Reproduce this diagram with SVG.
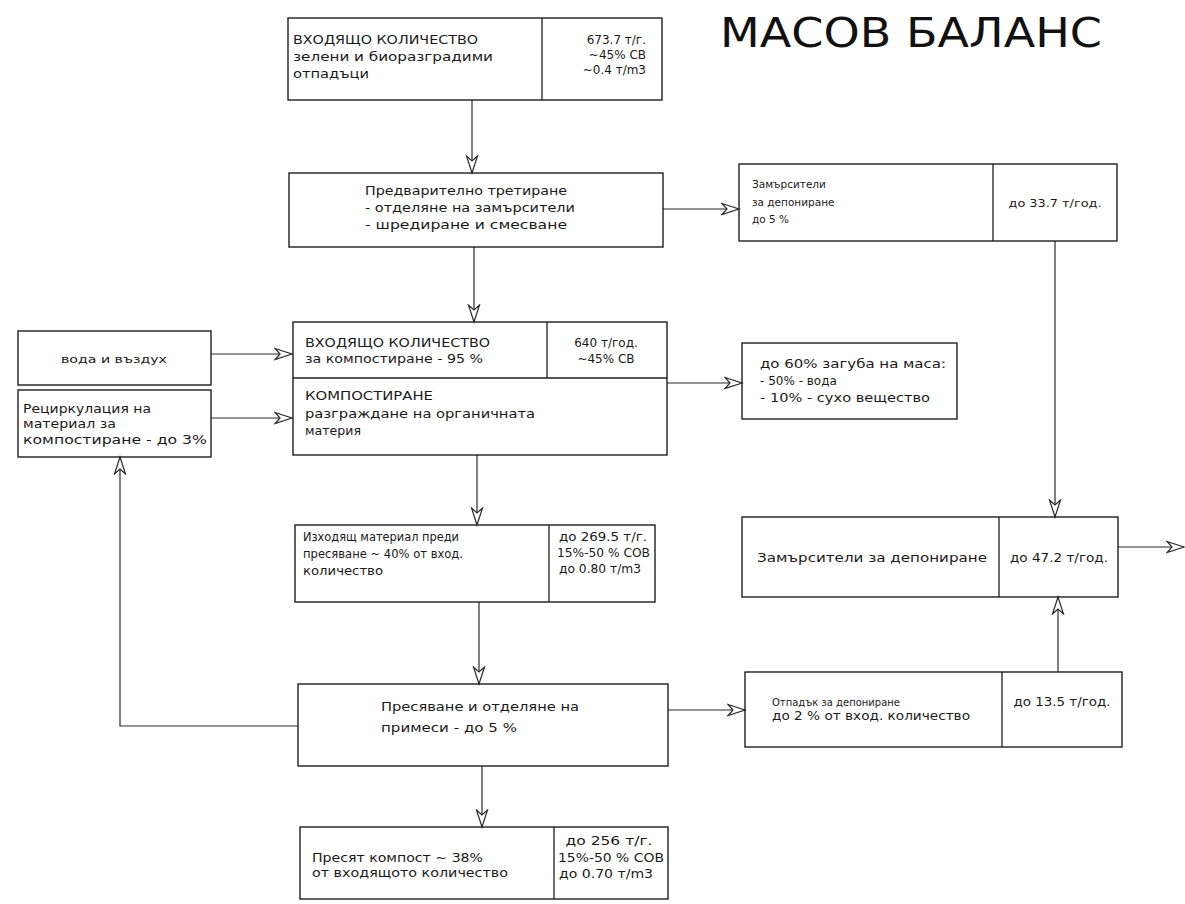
<svg xmlns="http://www.w3.org/2000/svg" width="1185" height="904" viewBox="0 0 1185 904">
<defs>
<style>
.box{fill:none;stroke:#1e1e1e;stroke-width:1.4}
.div{stroke:#1e1e1e;stroke-width:1.3}
.con{fill:none;stroke:#2a2a2a;stroke-width:1.2}
text{font-family:"DejaVu Sans","Noto Sans",sans-serif;font-size:12px;fill:#1a1a1a}
.sm{font-size:10.5px}
.title{font-size:41px;fill:#111}
</style>
<marker id="arr" markerUnits="userSpaceOnUse" markerWidth="20" markerHeight="14" refX="18" refY="7" orient="auto">
<path d="M1,1.5 L18,7 L1,12.5 L6,7 Z" fill="#fff" stroke="#2a2a2a" stroke-width="1.2" stroke-linejoin="miter"/>
</marker>
</defs>
<rect width="1185" height="904" fill="#fff"/>

<text class="title" x="720" y="47" textLength="382" lengthAdjust="spacingAndGlyphs">МАСОВ БАЛАНС</text>

<g id="connectors">
<line class="con" x1="472" y1="100" x2="472" y2="173" marker-end="url(#arr)"/>
<line class="con" x1="663" y1="209" x2="739" y2="209" marker-end="url(#arr)"/>
<line class="con" x1="474" y1="247" x2="474" y2="322" marker-end="url(#arr)"/>
<line class="con" x1="211" y1="354" x2="292" y2="354" marker-end="url(#arr)"/>
<line class="con" x1="211" y1="418" x2="292" y2="418" marker-end="url(#arr)"/>
<line class="con" x1="667" y1="383" x2="742" y2="383" marker-end="url(#arr)"/>
<line class="con" x1="477" y1="455" x2="477" y2="525" marker-end="url(#arr)"/>
<line class="con" x1="1055" y1="241" x2="1055" y2="517" marker-end="url(#arr)"/>
<line class="con" x1="479" y1="602" x2="479" y2="684" marker-end="url(#arr)"/>
<line class="con" x1="668" y1="710" x2="745" y2="710" marker-end="url(#arr)"/>
<line class="con" x1="1058" y1="672" x2="1058" y2="597" marker-end="url(#arr)"/>
<line class="con" x1="1118" y1="547" x2="1184" y2="547" marker-end="url(#arr)"/>
<line class="con" x1="482" y1="766" x2="482" y2="827" marker-end="url(#arr)"/>
<polyline class="con" points="298,726 120,726 120,457" marker-end="url(#arr)"/>
</g>

<g id="n-input">
<rect class="box" x="288" y="18" width="374" height="82"/>
<line class="div" x1="542" y1="18" x2="542" y2="100"/>
<text x="293" y="44" textLength="185" lengthAdjust="spacingAndGlyphs">ВХОДЯЩО КОЛИЧЕСТВО</text>
<text x="293" y="61" textLength="200" lengthAdjust="spacingAndGlyphs">зелени и биоразградими</text>
<text x="293" y="78" textLength="76" lengthAdjust="spacingAndGlyphs">отпадъци</text>
<text x="646" y="44" text-anchor="end" font-size="11.5">673.7 т/г.</text>
<text x="646" y="59" text-anchor="end" font-size="11.5">~45%  СВ</text>
<text x="646" y="74" text-anchor="end" font-size="11.5">~0.4 т/m3</text>
</g>

<g id="n-pretreat">
<rect class="box" x="289" y="173" width="374" height="74"/>
<text x="365" y="195" textLength="202" lengthAdjust="spacingAndGlyphs">Предварително третиране</text>
<text x="365" y="212" textLength="210" lengthAdjust="spacingAndGlyphs">- отделяне на замърсители</text>
<text x="365" y="229" textLength="202" lengthAdjust="spacingAndGlyphs">- шредиране и смесване</text>
</g>

<g id="n-contam1">
<rect class="box" x="739" y="164" width="378" height="77"/>
<line class="div" x1="993" y1="164" x2="993" y2="241"/>
<text x="752" y="188" class="sm">Замърсители</text>
<text x="752" y="206" class="sm">за депониране</text>
<text x="752" y="223" class="sm">до 5 %</text>
<text x="1055" y="207" text-anchor="middle" class="sm" textLength="93" lengthAdjust="spacingAndGlyphs">до 33.7 т/год.</text>
</g>

<g id="n-water">
<rect class="box" x="18" y="331" width="193" height="54"/>
<text x="114" y="363" text-anchor="middle" class="sm" textLength="106" lengthAdjust="spacingAndGlyphs">вода и въздух</text>
</g>

<g id="n-recirc">
<rect class="box" x="18" y="390" width="193" height="67"/>
<text x="23" y="413" font-size="12.5" textLength="128" lengthAdjust="spacingAndGlyphs">Рециркулация на</text>
<text x="23" y="428" font-size="12.5" textLength="93" lengthAdjust="spacingAndGlyphs">материал за</text>
<text x="23" y="444" font-size="12.5" textLength="184" lengthAdjust="spacingAndGlyphs">компостиране - до 3%</text>
</g>

<g id="n-compost">
<rect class="box" x="293" y="322" width="374" height="133"/>
<line class="div" x1="293" y1="378" x2="667" y2="378"/>
<line class="div" x1="547" y1="322" x2="547" y2="378"/>
<text x="305" y="347" textLength="185" lengthAdjust="spacingAndGlyphs">ВХОДЯЩО КОЛИЧЕСТВО</text>
<text x="305" y="363" textLength="178" lengthAdjust="spacingAndGlyphs">за компостиране  - 95 %</text>
<text x="606" y="347" text-anchor="middle">640 т/год.</text>
<text x="606" y="363" text-anchor="middle">~45%  СВ</text>
<text x="305" y="400" textLength="128" lengthAdjust="spacingAndGlyphs">КОМПОСТИРАНЕ</text>
<text x="305" y="418" textLength="230" lengthAdjust="spacingAndGlyphs">разграждане на органичната</text>
<text x="305" y="435" textLength="56" lengthAdjust="spacingAndGlyphs">материя</text>
</g>

<g id="n-loss">
<rect class="box" x="742" y="343" width="215" height="76"/>
<text x="760" y="368" textLength="186" lengthAdjust="spacingAndGlyphs">до 60% загуба на маса:</text>
<text x="760" y="385">- 50% - вода</text>
<text x="760" y="402" textLength="170" lengthAdjust="spacingAndGlyphs">- 10% - сухо вещество</text>
</g>

<g id="n-output">
<rect class="box" x="295" y="525" width="360" height="77"/>
<line class="div" x1="549" y1="525" x2="549" y2="602"/>
<text x="303" y="541" textLength="156" lengthAdjust="spacingAndGlyphs">Изходящ материал преди</text>
<text x="303" y="558" textLength="160" lengthAdjust="spacingAndGlyphs">пресяване ~ 40%  от вход.</text>
<text x="303" y="575" textLength="80" lengthAdjust="spacingAndGlyphs">количество</text>
<text x="559" y="541" textLength="88" lengthAdjust="spacingAndGlyphs">до 269.5 т/г.</text>
<text x="557" y="557" textLength="93" lengthAdjust="spacingAndGlyphs">15%-50 % СОВ</text>
<text x="559" y="573" textLength="82" lengthAdjust="spacingAndGlyphs">до 0.80 т/m3</text>
</g>

<g id="n-contam2">
<rect class="box" x="742" y="517" width="376" height="80"/>
<line class="div" x1="999" y1="517" x2="999" y2="597"/>
<text x="757" y="562" textLength="230" lengthAdjust="spacingAndGlyphs">Замърсители  за депониране</text>
<text x="1059" y="562" text-anchor="middle" textLength="98" lengthAdjust="spacingAndGlyphs">до 47.2 т/год.</text>
</g>

<g id="n-press">
<rect class="box" x="298" y="684" width="370" height="82"/>
<text x="381" y="711" textLength="198" lengthAdjust="spacingAndGlyphs">Пресяване и отделяне на</text>
<text x="381" y="732" textLength="136" lengthAdjust="spacingAndGlyphs">примеси  - до 5 %</text>
</g>

<g id="n-waste">
<rect class="box" x="745" y="672" width="377" height="75"/>
<line class="div" x1="1002" y1="672" x2="1002" y2="747"/>
<text x="772" y="706" class="sm" textLength="128" lengthAdjust="spacingAndGlyphs">Отпадък за депониране</text>
<text x="772" y="720" textLength="198" lengthAdjust="spacingAndGlyphs">до 2 %  от вход. количество</text>
<text x="1062" y="706" text-anchor="middle" textLength="97" lengthAdjust="spacingAndGlyphs">до 13.5 т/год.</text>
</g>

<g id="n-final">
<rect class="box" x="300" y="827" width="368" height="72"/>
<line class="div" x1="554" y1="827" x2="554" y2="899"/>
<text x="312" y="862" textLength="171" lengthAdjust="spacingAndGlyphs">Пресят компост ~ 38%</text>
<text x="312" y="877" textLength="196" lengthAdjust="spacingAndGlyphs">от входящото  количество</text>
<text x="609" y="845" text-anchor="middle" textLength="87" lengthAdjust="spacingAndGlyphs">до 256  т/г.</text>
<text x="558" y="862" textLength="106" lengthAdjust="spacingAndGlyphs">15%-50 % СОВ</text>
<text x="559" y="878" textLength="94" lengthAdjust="spacingAndGlyphs">до 0.70 т/m3</text>
</g>
</svg>
